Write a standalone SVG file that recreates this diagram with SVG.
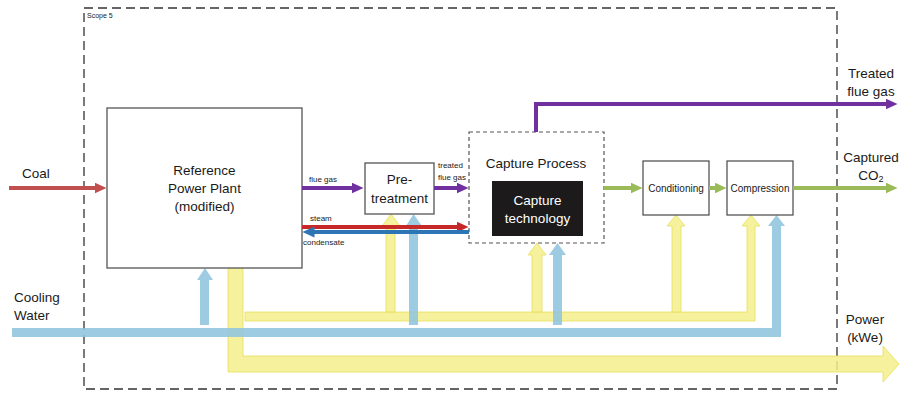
<svg xmlns="http://www.w3.org/2000/svg" width="903" height="394" viewBox="0 0 903 394">
<defs>
<style>
text{font-family:"Liberation Sans",Arial,sans-serif;fill:#1a1a1a}
.big{font-size:13.5px}
.mid{font-size:10px}
.sm{font-size:8px}
.tiny{font-size:7px}
.box{fill:#fff;stroke:#555;stroke-width:1.3}
.ln{fill:none;stroke-width:4}
.yel{fill:#f3ee8c;fill-opacity:0.85;stroke:#e9e05a;stroke-width:0.8}
.blu{fill:#8fc4de;fill-opacity:0.88}
</style>
<marker id="mCoal" markerUnits="userSpaceOnUse" markerWidth="12" markerHeight="11" refX="0.5" refY="5.5" orient="auto"><path d="M0,0 L12,5.5 L0,11 z" fill="#c0504d"/></marker>
<marker id="mPur" markerUnits="userSpaceOnUse" markerWidth="12" markerHeight="11" refX="0.5" refY="5.5" orient="auto"><path d="M0,0 L12,5.5 L0,11 z" fill="#7030a0"/></marker>
<marker id="mRed" markerUnits="userSpaceOnUse" markerWidth="12" markerHeight="11" refX="0.5" refY="5.5" orient="auto"><path d="M0,0 L12,5.5 L0,11 z" fill="#c62828"/></marker>
<marker id="mBlu" markerUnits="userSpaceOnUse" markerWidth="12" markerHeight="11" refX="0.5" refY="5.5" orient="auto"><path d="M0,0 L12,5.5 L0,11 z" fill="#2e75b6"/></marker>
<marker id="mGrn" markerUnits="userSpaceOnUse" markerWidth="12" markerHeight="11" refX="0.5" refY="5.5" orient="auto"><path d="M0,0 L12,5.5 L0,11 z" fill="#9bbb59"/></marker>
</defs>
<rect width="903" height="394" fill="#fff"/>

<g id="scope">
<rect x="84" y="8" width="753" height="381" fill="none" stroke="#333" stroke-width="1.3" stroke-dasharray="9,5"/>
<text class="tiny" x="87" y="18">Scope 5</text>
</g>

<g id="flows-utility">
<polygon class="yel" points="228,264 243,264 243,356 883,356 883,346 899,364 883,382 883,372 228,372"/>
<polygon class="yel" points="245,312 747,312 747,226 742,226 751,215 760,226 755,226 755,321 245,321"/>
<polygon class="yel" points="386,312 386,226 382,226 391,214 400,226 395,226 395,312"/>
<polygon class="yel" points="532,312 532,255 528,255 537,243 546,255 542,255 542,312"/>
<polygon class="yel" points="672,312 672,226 667,226 676,215 685,226 681,226 681,312"/>
<polygon class="blu" points="12,328 772,328 772,226 768,226 776.5,215 785,226 781,226 781,337 12,337"/>
<polygon class="blu" points="200,325 200,280 197,280 205,268 213,280 209,280 209,325"/>
<polygon class="blu" points="409,325 409,226 406,226 413.5,214 422,226 418,226 418,325"/>
<polygon class="blu" points="553,325 553,255 549,255 557.5,243 566,255 562,255 562,325"/>
</g>

<g id="plant">
<rect class="box" x="107" y="108" width="195" height="160"/>
<text class="big" x="204.5" y="175" text-anchor="middle">Reference</text>
<text class="big" x="204.5" y="193" text-anchor="middle">Power Plant</text>
<text class="big" x="204.5" y="211" text-anchor="middle">(modified)</text>
</g>

<g id="pretreatment">
<rect class="box" x="365" y="163" width="69" height="51"/>
<text class="big" x="399.5" y="184" text-anchor="middle">Pre-</text>
<text class="big" x="399.5" y="203" text-anchor="middle">treatment</text>
</g>

<g id="capture">
<rect x="469" y="132" width="135" height="111" fill="#fff" stroke="#555" stroke-width="1.2" stroke-dasharray="4,3"/>
<text class="big" x="536" y="168" text-anchor="middle">Capture Process</text>
<rect x="492" y="181" width="91" height="55" fill="#1c1a1a"/>
<text class="big" x="537.5" y="205" text-anchor="middle" style="fill:#fff">Capture</text>
<text class="big" x="537.5" y="223" text-anchor="middle" style="fill:#fff">technology</text>
</g>

<g id="conditioning">
<rect class="box" x="643" y="161" width="66" height="54"/>
<text class="mid" x="676" y="191.5" text-anchor="middle">Conditioning</text>
</g>

<g id="compression">
<rect class="box" x="727" y="161" width="66" height="54"/>
<text class="mid" x="760" y="191.5" text-anchor="middle">Compression</text>
</g>

<g id="connectors">
<path class="ln" d="M9,188 H95" stroke="#c0504d" marker-end="url(#mCoal)"/>
<path class="ln" d="M302,188 H352" stroke="#7030a0" marker-end="url(#mPur)"/>
<path class="ln" d="M434,188 H457" stroke="#7030a0" marker-end="url(#mPur)"/>
<path class="ln" d="M302,227 H457" stroke="#c62828" marker-end="url(#mRed)"/>
<path class="ln" d="M469,232 H314" stroke="#2e75b6" marker-end="url(#mBlu)"/>
<path class="ln" d="M536,132 V104 H886" stroke="#7030a0" marker-end="url(#mPur)"/>
<path class="ln" d="M604,188 H631" stroke="#9bbb59" marker-end="url(#mGrn)"/>
<path class="ln" d="M709,188 H715" stroke="#9bbb59" marker-end="url(#mGrn)"/>
<path class="ln" d="M793,188 H886" stroke="#9bbb59" marker-end="url(#mGrn)"/>
</g>

<g id="labels">
<text class="big" x="22" y="178">Coal</text>
<text class="big" x="14" y="302">Cooling</text>
<text class="big" x="14" y="320">Water</text>
<text class="sm" x="309" y="182">flue gas</text>
<text class="sm" x="438" y="168">treated</text>
<text class="sm" x="438" y="180">flue gas</text>
<text class="sm" x="310" y="221">steam</text>
<text class="sm" x="303" y="245">condensate</text>
<text class="big" x="871" y="78" text-anchor="middle">Treated</text>
<text class="big" x="871" y="96" text-anchor="middle">flue gas</text>
<text class="big" x="871" y="162" text-anchor="middle">Captured</text>
<text class="big" x="871" y="180" text-anchor="middle">CO<tspan font-size="9" dy="2">2</tspan></text>
<text class="big" x="865" y="324" text-anchor="middle">Power</text>
<text class="big" x="865" y="342" text-anchor="middle">(kWe)</text>
</g>
</svg>
